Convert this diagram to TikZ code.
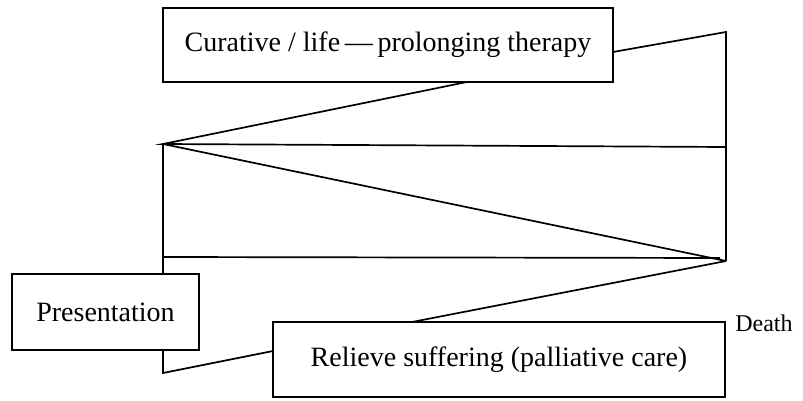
\documentclass[tikz,border=0pt]{standalone}
\usepackage{fontspec}
\setmainfont{Liberation Serif}
\begin{document}
\begin{tikzpicture}[x=1pt,y=-1pt,
  box/.style={draw,line width=1.7pt,inner sep=0pt,font=\fontsize{28}{32}\selectfont},
  ln/.style={line width=1.7pt,line join=miter},
  lbl/.style={inner sep=0pt,font=\fontsize{24}{28}\selectfont}]
\useasboundingbox (0,0) rectangle (803,401);
% boxes
\node[box,minimum width=450pt,minimum height=74pt] (top) at (388,45) {Curative / life\,—\,prolonging therapy};
\node[box,minimum width=187pt,minimum height=76pt] (pres) at (105.5,312) {Presentation};
\node[box,minimum width=452pt,minimum height=75pt] (rel) at (499,359.5) {Relieve suffering (palliative care)};
\node[lbl] (death) at (764,323) {Death};
% coordinates
\coordinate (A) at (163,144);
\coordinate (T) at (726,32);
\coordinate (B) at (726,261);
\coordinate (MR) at (726,147);
\coordinate (LL) at (163,257);
\coordinate (LR) at (720,258);
\coordinate (PB) at (163,373);
\coordinate (te) at (613,52);
\coordinate (tb) at (467,82);
\coordinate (pn) at (163,274);
\coordinate (ps) at (163,350);
\coordinate (rw) at (273,351);
\coordinate (rt) at (412,322);
% connectors
\draw[ln] (te) -- (T) -- (B);
\draw[ln] (tb) -- (A) -- (MR);
\draw[ln] (A) -- (B);
\draw[ln] (A) -- (LL) -- (pn);
\draw[ln] (LL) -- (LR);
\draw[ln] (ps) -- (PB) -- (rw);
\draw[ln] (B) -- (rt);
\end{tikzpicture}
\end{document}
